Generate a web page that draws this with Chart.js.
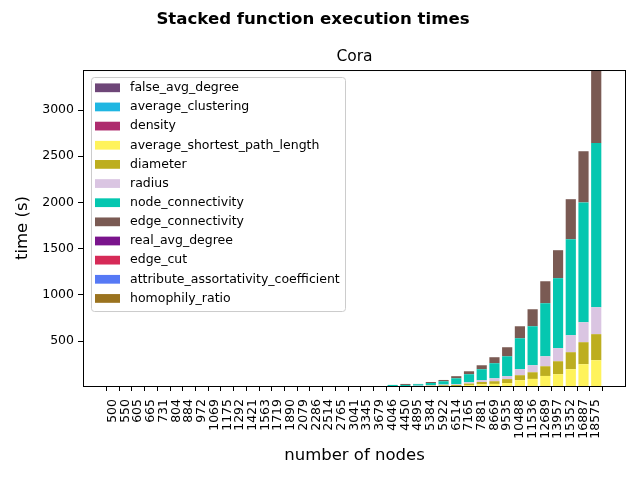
<!DOCTYPE html>
<html>
<head>
<meta charset="utf-8">
<title>Stacked function execution times</title>
<script src="https://cdn.jsdelivr.net/npm/chart.js@4.4.1/dist/chart.umd.min.js"></script>
<style>
  html, body { margin: 0; padding: 0; background: #fff; }
</style>
</head>
<body>
<canvas id="canvas" width="640" height="480"></canvas>
<script>
// number of nodes (x categories)
var nodes = [500, 550, 605, 665, 731, 804, 884, 972, 1069, 1175, 1292, 1421, 1563, 1719, 1890,
  2079, 2286, 2514, 2765, 3041, 3345, 3679, 4046, 4450, 4895, 5384, 5922, 6514, 7165, 7881,
  8669, 9535, 10488, 11536, 12689, 13957, 15352, 16887, 18575];

// execution times in seconds, one array per function
var falseAvgDegree = [0.01, 0.01, 0.01, 0.01, 0.01, 0.01, 0.01, 0.01, 0.01, 0.02, 0.02, 0.02, 0.02,
  0.02, 0.03, 0.03, 0.03, 0.04, 0.04, 0.05, 0.05, 0.06, 0.07, 0.07, 0.08, 0.09, 0.1, 0.11, 0.12,
  0.13, 0.15, 0.16, 0.18, 0.2, 0.22, 0.24, 0.26, 0.29, 0.32];
var averageClustering = [0.01, 0.01, 0.01, 0.01, 0.02, 0.02, 0.02, 0.02, 0.03, 0.03, 0.03, 0.04, 0.04,
  0.05, 0.05, 0.06, 0.07, 0.08, 0.09, 0.1, 0.11, 0.12, 0.14, 0.15, 0.17, 0.19, 0.21, 0.23, 0.26,
  0.28, 0.31, 0.35, 0.38, 0.42, 0.46, 0.51, 0.56, 0.62, 0.68];
var density = [0.001, 0.001, 0.001, 0.001, 0.001, 0.001, 0.001, 0.001, 0.001, 0.001, 0.001, 0.001, 0.001,
  0.001, 0.001, 0.001, 0.001, 0.001, 0.001, 0.001, 0.001, 0.001, 0.001, 0.001, 0.001, 0.001, 0.001, 0.001, 0.001,
  0.001, 0.001, 0.001, 0.001, 0.001, 0.001, 0.001, 0.001, 0.001, 0.001];
var avgShortestPath = [0.02, 0.02, 0.03, 0.04, 0.05, 0.06, 0.08, 0.1, 0.12, 0.15, 0.19, 0.24, 0.3,
  0.37, 0.46, 0.57, 0.7, 0.87, 1.1, 1.3, 1.6, 2.0, 4, 5, 6, 9, 11, 13, 24,
  31, 35, 44, 75, 89, 121, 140, 194, 248, 291];
var diameter = [0.02, 0.02, 0.03, 0.03, 0.04, 0.05, 0.06, 0.08, 0.1, 0.12, 0.15, 0.19, 0.24,
  0.3, 0.37, 0.46, 0.57, 0.7, 0.87, 1.1, 1.3, 1.6, 3, 4, 5, 7, 9, 11, 15,
  25, 29, 43, 54, 72, 105, 140, 184, 238, 282];
var radius = [0.02, 0.02, 0.02, 0.03, 0.04, 0.05, 0.06, 0.07, 0.09, 0.11, 0.14, 0.17, 0.21,
  0.26, 0.33, 0.41, 0.5, 0.62, 0.77, 0.95, 1.2, 1.5, 3, 4, 5, 7, 8, 8, 14,
  19, 32, 31, 65, 76, 108, 141, 184, 216, 292];
var nodeConnectivity = [0.05, 0.06, 0.08, 0.1, 0.12, 0.15, 0.19, 0.24, 0.3, 0.37, 0.46, 0.57, 0.71,
  0.88, 1.1, 1.4, 1.7, 2.1, 2.7, 3.3, 4.1, 5.1, 14, 11, 16, 22, 36, 64, 87,
  119, 163, 216, 335, 422, 574, 758, 1039, 1297, 1776];
var edgeConnectivity = [0.02, 0.03, 0.03, 0.04, 0.05, 0.06, 0.08, 0.1, 0.12, 0.15, 0.19, 0.23, 0.29,
  0.36, 0.45, 0.56, 0.7, 0.87, 1.1, 1.3, 1.7, 2.1, 0.5, 11, 3, 11, 14, 23, 32,
  43, 65, 98, 130, 184, 238, 303, 433, 554, 792];
var realAvgDegree = [0.01, 0.01, 0.01, 0.01, 0.01, 0.01, 0.01, 0.01, 0.01, 0.02, 0.02, 0.02, 0.02,
  0.02, 0.03, 0.03, 0.03, 0.04, 0.04, 0.05, 0.05, 0.06, 0.07, 0.07, 0.08, 0.09, 0.1, 0.11, 0.12,
  0.13, 0.15, 0.16, 0.18, 0.2, 0.22, 0.24, 0.26, 0.29, 0.32];
var edgeCut = [0.01, 0.01, 0.01, 0.01, 0.01, 0.01, 0.01, 0.01, 0.01, 0.01, 0.01, 0.02, 0.02,
  0.02, 0.02, 0.02, 0.03, 0.03, 0.03, 0.04, 0.04, 0.05, 0.05, 0.06, 0.06, 0.07, 0.08, 0.09, 0.1,
  0.11, 0.12, 0.13, 0.14, 0.16, 0.17, 0.19, 0.21, 0.23, 0.25];
var attrAssortativity = [0.01, 0.01, 0.01, 0.01, 0.01, 0.02, 0.02, 0.02, 0.02, 0.02, 0.03, 0.03, 0.03,
  0.04, 0.04, 0.05, 0.05, 0.06, 0.07, 0.07, 0.08, 0.09, 0.1, 0.11, 0.12, 0.13, 0.15, 0.16, 0.18,
  0.2, 0.22, 0.24, 0.27, 0.29, 0.32, 0.35, 0.39, 0.43, 0.47];
var homophilyRatio = [0.01, 0.01, 0.01, 0.01, 0.01, 0.01, 0.01, 0.01, 0.01, 0.01, 0.01, 0.02, 0.02,
  0.02, 0.02, 0.02, 0.03, 0.03, 0.03, 0.04, 0.04, 0.05, 0.05, 0.06, 0.06, 0.07, 0.08, 0.09, 0.1,
  0.11, 0.12, 0.13, 0.14, 0.16, 0.17, 0.19, 0.21, 0.23, 0.25];

var seriesNames = ['false_avg_degree', 'average_clustering', 'density', 'average_shortest_path_length',
  'diameter', 'radius', 'node_connectivity', 'edge_connectivity', 'real_avg_degree', 'edge_cut',
  'attribute_assortativity_coefficient', 'homophily_ratio'];
var seriesValues = [falseAvgDegree, averageClustering, density, avgShortestPath, diameter, radius,
  nodeConnectivity, edgeConnectivity, realAvgDegree, edgeCut, attrAssortativity, homophilyRatio];
var seriesColors = ['#6e4678', '#1fb6e2', '#ae2c6e', '#fff35b', '#bdae1f', '#dac5e2',
  '#05c7b0', '#7a5a53', '#7a148c', '#d62a57', '#5679f5', '#9b731f'];

var yTicks = [500, 1000, 1500, 2000, 2500, 3000];

Chart.defaults.font.family = '"DejaVu Sans", sans-serif';
Chart.defaults.color = '#000';

// axes box + matplotlib style legend inside the plot
var boxAndLegend = {
  id: 'boxAndLegend',
  afterDatasetsDraw: function(chart) {
    var ctx = chart.ctx;
    var ca = chart.chartArea;
    ctx.save();
    ctx.strokeStyle = '#000';
    ctx.lineWidth = 1;
    ctx.strokeRect(ca.left + 0.5, ca.top + 0.5, ca.right - ca.left - 1, ca.bottom - ca.top);

    var x0 = ca.left + 8.5, y0 = ca.top + 7.5;
    ctx.beginPath();
    ctx.roundRect(x0, y0, 254, 234, 3);
    ctx.fillStyle = 'rgba(255,255,255,0.8)';
    ctx.fill();
    ctx.strokeStyle = '#cccccc';
    ctx.stroke();

    ctx.font = '12.5px "DejaVu Sans"';
    ctx.textBaseline = 'middle';
    ctx.textAlign = 'left';
    chart.data.datasets.forEach(function(ds, k) {
      var cy = y0 + 10.3 + k * 19.15;
      ctx.fillStyle = ds.backgroundColor;
      ctx.fillRect(x0 + 3.5, cy - 4.4, 25, 8.75);
      ctx.fillStyle = '#000';
      ctx.fillText(ds.label, x0 + 38.5, cy);
    });
    ctx.restore();
  }
};

var datasets = seriesNames.map(function(name, k) {
  return {
    label: name,
    backgroundColor: seriesColors[k],
    borderWidth: 0,
    categoryPercentage: 1.0,
    barPercentage: 0.8,
    data: seriesValues[k].map(function(v, i) { return { x: i, y: v }; })
  };
});

var ctx = document.getElementById('canvas').getContext('2d');
var chart = new Chart(ctx, {
  type: 'bar',
  data: { datasets: datasets },
  plugins: [boxAndLegend],
  options: {
    responsive: false,
    animation: false,
    events: [],
    layout: { padding: { left: 0, right: 14, top: 0, bottom: 0 } },
    plugins: {
      legend: { display: false },
      tooltip: { enabled: false },
      title: {
        display: true,
        text: 'Stacked function execution times',
        font: { size: 16.6, weight: 'bold' },
        padding: { top: 10, bottom: 8 }
      },
      subtitle: {
        display: true,
        text: 'Cora',
        fullSize: false,
        font: { size: 15.5, weight: 'normal' },
        color: '#000',
        padding: { top: 10, bottom: 3.5 }
      }
    },
    scales: {
      x: {
        type: 'linear',
        stacked: true,
        min: -2.34,
        max: 40.34,
        offset: false,
        border: { display: false },
        grid: { drawOnChartArea: false, drawTicks: true, tickLength: 5, color: '#000' },
        afterBuildTicks: function(scale) {
          scale.ticks = nodes.map(function(n, i) { return { value: i }; });
        },
        afterFit: function(scale) { scale.height = 94; },
        ticks: {
          autoSkip: false,
          minRotation: 90,
          maxRotation: 90,
          padding: 8,
          font: { size: 12.5 },
          callback: function(value) { return String(nodes[value]); }
        },
        title: {
          display: true,
          text: 'number of nodes',
          font: { size: 16.5 },
          padding: { top: 0, bottom: 14 }
        }
      },
      y: {
        stacked: true,
        min: 13,
        max: 3433,
        border: { display: false },
        grid: { drawOnChartArea: false, drawTicks: true, tickLength: 5, color: '#000' },
        afterBuildTicks: function(scale) {
          scale.ticks = yTicks.map(function(v) { return { value: v }; });
        },
        afterFit: function(scale) { scale.width = 83; },
        ticks: {
          padding: 4,
          font: { size: 12.5 },
          callback: function(value) { return String(value); }
        },
        title: {
          display: true,
          text: 'time (s)',
          font: { size: 16.5 },
          padding: { top: 12.6, bottom: 0 }
        }
      }
    }
  }
});
</script>
</body>
</html>
